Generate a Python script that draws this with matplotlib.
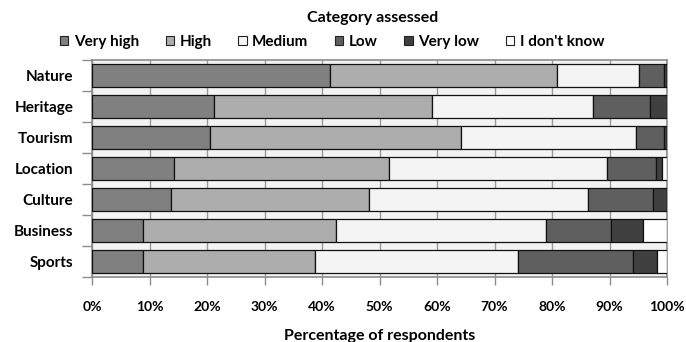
import matplotlib
matplotlib.use("Agg")
import matplotlib.pyplot as plt
import numpy as np

plt.rcParams['font.family'] = ['Lato', 'DejaVu Sans']
plt.rcParams['font.weight'] = 'bold'

categories = ["Nature", "Heritage", "Tourism", "Location", "Culture", "Business", "Sports"]
levels = ["Very high", "High", "Medium", "Low", "Very low", "I don't know"]

very_high = [41.4, 21.2, 20.6, 14.3, 13.7, 8.9, 8.9]
high = [39.4, 37.9, 43.5, 37.4, 34.5, 33.5, 29.8]
medium = [14.3, 28.0, 30.5, 37.9, 38.1, 36.6, 35.4]
low = [4.4, 9.9, 4.9, 8.5, 11.3, 11.3, 19.9]
very_low = [0.5, 3.0, 0.5, 1.0, 2.4, 5.5, 4.2]
dont_know = [0.0, 0.0, 0.0, 0.9, 0.0, 4.2, 1.8]

series = [very_high, high, medium, low, very_low, dont_know]
colors = ["#808080", "#adadad", "#f4f4f4", "#5f5f5f", "#404040", "#ffffff"]

xticks = [0, 10, 20, 30, 40, 50, 60, 70, 80, 90, 100]
xtick_labels = [f"{v}%" for v in xticks]

fig = plt.figure(figsize=(6.86, 3.42), dpi=100)
ax = fig.add_axes([92 / 686, 1 - 277 / 342, (667 - 92) / 686, (277 - 60) / 342])
ax.set_facecolor("#f3f3f3")

y = np.arange(len(categories))
left = np.zeros(len(categories))
for name, vals, col in zip(levels, series, colors):
    vals = np.array(vals)
    ax.barh(y, vals, left=left, height=0.73, color=col, edgecolor="#111111",
            linewidth=0.9, label=name, zorder=3)
    left += vals

ax.set_xlim(0, 100)
ax.set_ylim(len(categories) - 0.5, -0.5)
ax.set_xticks(xticks)
ax.set_xticklabels(xtick_labels, fontsize=10, fontweight="bold")
ax.tick_params(axis="x", length=6, width=1, color="#8c8c8c", pad=11)

# category labels centred, tick marks on category boundaries
ax.set_yticks(y)
ax.set_yticklabels(categories, fontsize=11, fontweight="bold")
ax.tick_params(axis="y", which="major", length=0, pad=13.5)
ax.set_yticks(np.arange(-0.5, len(categories)), minor=True)
ax.tick_params(axis="y", which="minor", length=7, width=1, color="#8c8c8c")

ax.grid(axis="x", color="#9a9a9a", linewidth=1, zorder=1)
ax.set_axisbelow(True)
for s in ax.spines.values():
    s.set_color("#8c8c8c")
    s.set_linewidth(1.2)

ax.set_xlabel("Percentage of respondents", fontsize=11.5, fontweight="bold", labelpad=12)

fig.text(373 / 686, 1 - 18 / 342, "Category assessed", ha="center", va="center",
         fontsize=11.5, fontweight="bold")

handles, labels = ax.get_legend_handles_labels()
leg = fig.legend(handles, labels, ncol=6, loc="center", bbox_to_anchor=(332 / 686, 1 - 42 / 342),
                 frameon=False, fontsize=11, handlelength=0.55, handleheight=0.55,
                 handletextpad=0.35, columnspacing=1.75, borderaxespad=0)
for h in leg.legend_handles:
    h.set_edgecolor("#222222")
    h.set_linewidth(0.8)

fig.savefig("out.png", dpi=100)
